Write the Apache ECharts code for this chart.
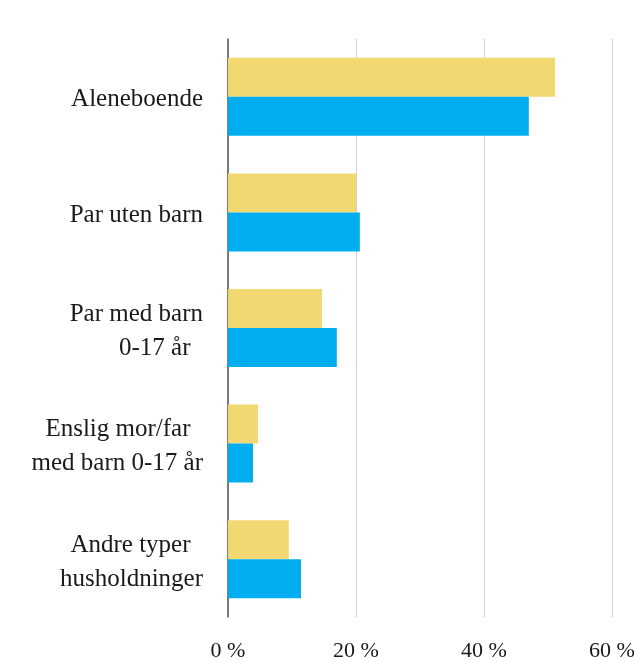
<!DOCTYPE html>
<html>
<head>
<meta charset="utf-8">
<script src="https://cdn.jsdelivr.net/npm/echarts@6/dist/echarts.min.js"></script>
<style>
  html, body { margin: 0; padding: 0; background: #fff; }
  #chart { width: 639px; height: 662px; }
</style>
</head>
<body>
<div id="chart"></div>
<script>
// kategorier (ovenfra og ned)
const categories = ['Aleneboende', 'Par uten barn', 'Par med barn\n0-17 år  ', 'Enslig mor/far  \nmed barn 0-17 år', 'Andre typer  \nhusholdninger']
// gul serie
const seriesA = [51.1, 20.0, 14.7, 4.7, 9.5]
// blå serie
const seriesB = [47.0, 20.6, 17.0, 3.9, 11.4]
const xTicks = [0, 20, 40, 60]

const font = '"Liberation Serif", "DejaVu Serif", serif'

let chart = echarts.init(document.getElementById('chart'))
chart.setOption({
  animation: false,
  grid: { left: 228, right: 27, top: 39, bottom: 45 },
  xAxis: {
    type: 'value',
    min: xTicks[0],
    max: xTicks[xTicks.length - 1],
    interval: 20,
    axisLine: { show: false },
    axisTick: { show: false },
    splitLine: { lineStyle: { color: '#d0d0d0', width: 1 } },
    axisLabel: {
      formatter: '{value} %',
      color: '#1a1a1a',
      fontFamily: font,
      fontSize: 22,
      margin: 23
    }
  },
  yAxis: {
    type: 'category',
    inverse: true,
    data: categories,
    axisLine: { lineStyle: { color: '#555', width: 1.5 } },
    axisTick: { show: false },
    axisLabel: {
      margin: 25,
      align: 'right',
      // hver linje som rik tekst, så den kan flyttes litt ned
      formatter: function (v) {
        return v.split('\n').map(s => '{t|' + s + '}').join('\n')
      },
      rich: {
        t: {
          color: '#1a1a1a',
          fontFamily: font,
          fontSize: 25,
          lineHeight: 34,
          align: 'right',
          padding: [6, 0, 0, 0]
        }
      }
    }
  },
  series: [
    {
      name: 'A',
      type: 'bar',
      data: seriesA,
      barWidth: 39,
      barGap: '0%',
      itemStyle: { color: '#F2D870' }
    },
    {
      name: 'B',
      type: 'bar',
      data: seriesB,
      barWidth: 39,
      barGap: '0%',
      itemStyle: { color: '#00AEEF' }
    }
  ]
})
</script>
</body>
</html>
